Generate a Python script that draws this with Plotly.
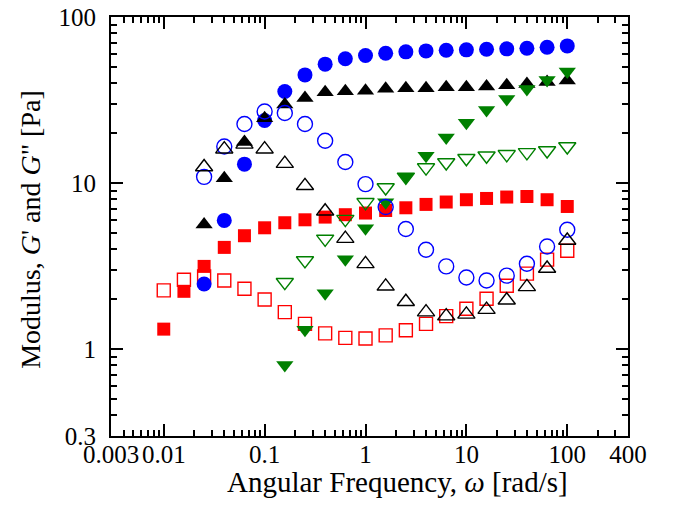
import plotly.graph_objects as go

# Angular frequency [rad/s]
omega = [0.01, 0.01585, 0.02512, 0.03981, 0.0631, 0.1, 0.1585, 0.2512, 0.3981, 0.631,
         1.0, 1.585, 2.512, 3.981, 6.31, 10.0, 15.85, 25.12, 39.81, 63.1, 100.0]

# Red squares
red_Gp = [1.32, 2.23, 3.15, 4.10, 4.82, 5.38, 5.77, 6.01, 6.24, 6.45,
          6.60, 6.84, 7.10, 7.44, 7.69, 7.94, 8.08, 8.24, 8.30, 7.94, 7.23]
red_Gpp = [2.26, 2.62, 2.74, 2.59, 2.31, 1.99, 1.67, 1.42, 1.245, 1.17,
           1.16, 1.21, 1.30, 1.42, 1.58, 1.75, 2.01, 2.41, 2.85, 3.46, 3.91]

# Blue circles
blue_Gp = [None, None, 2.47, 5.96, 13.0, 23.8, 35.6, 44.8, 52.0, 56.0,
           58.6, 60.5, 61.7, 62.5, 63.1, 63.4, 64.0, 64.3, 64.9, 65.8, 67.0]
blue_Gpp = [None, None, 10.9, 16.6, 22.7, 27.0, 26.4, 22.7, 17.97, 13.4,
            9.86, 7.17, 5.29, 3.97, 3.15, 2.70, 2.59, 2.77, 3.27, 4.15, 5.24]

# Black triangles (up)
black_Gp = [None, None, 5.63, 10.7, 17.7, 24.6, 29.7, 32.5, 35.2, 35.7,
            36.0, 37.0, 37.3, 37.3, 37.7, 37.7, 38.1, 38.8, 39.5, 40.6, 41.4]
black_Gpp = [None, None, 12.5, 16.0, 17.1, 16.0, 13.1, 9.63, 6.77, 4.63,
             3.26, 2.39, 1.93, 1.67, 1.58, 1.62, 1.73, 1.97, 2.37, 3.06, 4.51]

# Green triangles (down)
green_Gp = [None, None, None, None, None, None, 0.804, 1.31, 2.17, 3.48,
            5.35, 7.66, 10.9, 14.6, 18.8, 23.1, 27.5, 32.1, 36.8, 41.7, 46.9]
green_Gpp = [None, None, None, None, None, None, 2.53, 3.42, 4.61, 6.07,
             7.66, 9.40, 10.9, 12.4, 13.3, 14.1, 14.6, 14.9, 15.3, 15.7, 16.6]

x_tickvals = [0.003, 0.01, 0.1, 1, 10, 100, 400]
x_ticktext = ["0.003", "0.01", "0.1", "1", "10", "100", "400"]
y_tickvals = [0.3, 1, 10, 100]
y_ticktext = ["0.3", "1", "10", "100"]

x_minor = [d * 10 ** e for e in range(-3, 3) for d in range(2, 10)]
x_minor = [v for v in x_minor if 0.003 < v < 400]
y_minor = [d * 10 ** e for e in range(-1, 2) for d in range(2, 10)]
y_minor = [v for v in y_minor if 0.3 < v < 100]

RED = "#FF0000"
BLUE = "#0000FF"
GREEN = "#008000"
BLACK = "#000000"

fig = go.Figure()

def add(y, symbol, color, size, open_=False):
    if open_:
        marker = dict(symbol=symbol + "-open", size=size, color=color,
                      line=dict(color=color, width=1.4))
    else:
        marker = dict(symbol=symbol, size=size, color=color, line=dict(width=0))
    fig.add_trace(go.Scatter(x=omega, y=y, mode="markers", marker=marker,
                             showlegend=False, hoverinfo="x+y"))

add(red_Gp, "square", RED, 13)
add(red_Gpp, "square", RED, 13, True)
add(blue_Gp, "circle", BLUE, 15)
add(black_Gp, "triangle-up", BLACK, 15)
add(green_Gp, "triangle-down", GREEN, 15)
add(green_Gpp, "triangle-down", GREEN, 15, True)
add(blue_Gpp, "circle", BLUE, 15, True)
add(black_Gpp, "triangle-up", BLACK, 15, True)

FAMILY = "Liberation Serif, Times New Roman, serif"
tick_font = dict(family=FAMILY, size=25, color="black")
xtitle_font = dict(family=FAMILY, size=29, color="black")
ytitle_font = dict(family=FAMILY, size=28, color="black")

axis_common = dict(
    type="log", showgrid=False, zeroline=False,
    showline=True, linecolor="black", linewidth=2, mirror="allticks",
    ticks="inside", ticklen=12, tickwidth=1.5, tickcolor="black",
    tickfont=tick_font, ticklabeloverflow="allow",
)

fig.update_xaxes(
    **axis_common,
    range=[-2.5229, 2.6021],
    tickmode="array", tickvals=x_tickvals, ticktext=x_ticktext,
    minor=dict(tickmode="array", tickvals=x_minor, ticks="inside", ticklen=6,
               tickwidth=1.5, tickcolor="black", showgrid=False),
    ticklabelstandoff=-5,
)
fig.update_yaxes(
    **axis_common,
    range=[-0.5229, 2.0],
    tickmode="array", tickvals=y_tickvals, ticktext=y_ticktext,
    minor=dict(tickmode="array", tickvals=y_minor, ticks="inside", ticklen=6,
               tickwidth=1.5, tickcolor="black", showgrid=False),
    ticklabelstandoff=8,
)

fig.add_annotation(
    text="Angular Frequency, <i>ω</i> [rad/s]", font=xtitle_font,
    xref="paper", yref="paper", x=0.555, y=-0.11,
    xanchor="center", yanchor="middle", showarrow=False,
)
fig.add_annotation(
    text="Modulus, <i>G</i>' and <i>G</i>\" [Pa]", font=ytitle_font,
    xref="paper", yref="paper", x=-0.157, y=0.494, textangle=-90,
    xanchor="center", yanchor="middle", showarrow=False,
)

# page body has an 8px margin: compensate so the plot area lands at x 111-628, y 17-436
fig.update_layout(
    width=665, height=512,
    margin=dict(l=103, r=45, t=9, b=84, autoexpand=False),
    paper_bgcolor="white", plot_bgcolor="white",
    font=tick_font,
)

fig.write_html("out.html")
